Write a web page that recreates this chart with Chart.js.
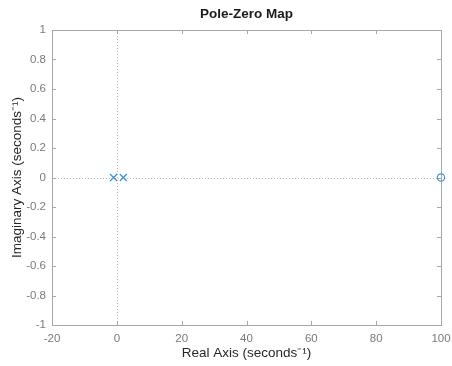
<!DOCTYPE html>
<html><head><meta charset="utf-8">
<script src="https://cdn.jsdelivr.net/npm/chart.js@4.4.1/dist/chart.umd.min.js"></script>
<style>html,body{margin:0;padding:0;background:#fff}#w{width:452px;height:366px}</style>
</head><body><div id="w"><canvas id="c"></canvas></div>
<script>
const poleReal = [-1, 2];
const poleImag = [0, 0];
const zeroReal = [100];
const zeroImag = [0];
const xTicks = [-20, 0, 20, 40, 60, 80, 100];
const yTicks = [-1, -0.8, -0.6, -0.4, -0.2, 0, 0.2, 0.4, 0.6, 0.8, 1];
const titleText = 'Pole-Zero Map';
const xTitle = 'Real Axis (seconds\u207B\u00B9)';
const yTitle = 'Imaginary Axis (seconds\u207B\u00B9)';

const FONT = 'Liberation Sans, Arial, sans-serif';
const markColor = '#3f8fd2';

const boxPlugin = {
  id: 'box',
  beforeDatasetsDraw(chart) {
    const {ctx, chartArea: a, scales: {x, y}} = chart;
    ctx.save();
    ctx.strokeStyle = '#b8b8b8';
    ctx.lineWidth = 1;
    ctx.setLineDash([1, 2]);
    const x0 = Math.round(x.getPixelForValue(0)) + 0.5;
    const y0 = Math.round(y.getPixelForValue(0)) + 0.5;
    ctx.beginPath(); ctx.moveTo(x0, a.top); ctx.lineTo(x0, a.bottom); ctx.stroke();
    ctx.beginPath(); ctx.moveTo(a.left, y0); ctx.lineTo(a.right, y0); ctx.stroke();
    ctx.setLineDash([]);
    ctx.strokeStyle = '#a8a8a8';
    ctx.strokeRect(Math.round(a.left) + 0.5, Math.round(a.top) + 0.5, Math.round(a.right - a.left), Math.round(a.bottom - a.top));
    const tl = 4;
    ctx.beginPath();
    x.ticks.forEach(t => {
      const px = Math.round(x.getPixelForValue(t.value)) + 0.5;
      ctx.moveTo(px, a.bottom); ctx.lineTo(px, a.bottom - tl);
      ctx.moveTo(px, a.top); ctx.lineTo(px, a.top + tl);
    });
    y.ticks.forEach(t => {
      const py = Math.round(y.getPixelForValue(t.value)) + 0.5;
      ctx.moveTo(a.left, py); ctx.lineTo(a.left + tl, py);
      ctx.moveTo(a.right, py); ctx.lineTo(a.right - tl, py);
    });
    ctx.stroke();
    ctx.fillStyle = '#1a1a1a';
    ctx.font = 'bold 13.5px ' + FONT;
    ctx.textAlign = 'center';
    ctx.textBaseline = 'middle';
    ctx.fillText(titleText, (a.left + a.right) / 2, 14);
    ctx.restore();
  }
};

new Chart(document.getElementById('c'), {
  type: 'scatter',
  data: {
    datasets: [
      {
        label: 'Poles',
        data: poleReal.map((v, i) => ({x: v, y: poleImag[i]})),
        pointStyle: 'crossRot',
        pointRadius: 5,
        borderColor: markColor,
        borderWidth: 1.2,
        backgroundColor: markColor
      },
      {
        label: 'Zeros',
        data: zeroReal.map((v, i) => ({x: v, y: zeroImag[i]})),
        pointStyle: 'circle',
        pointRadius: 3.7,
        borderColor: markColor,
        borderWidth: 1.2,
        backgroundColor: 'rgba(0,0,0,0)'
      }
    ]
  },
  options: {
    responsive: true,
    maintainAspectRatio: false,
    animation: false,
    clip: false,
    layout: {padding: {top: 30, right: 11, bottom: 0, left: 0}},
    plugins: {
      legend: {display: false},
      tooltip: {enabled: false},
      title: {display: false}
    },
    scales: {
      x: {
        type: 'linear',
        min: -20, max: 100,
        afterBuildTicks(s) { s.ticks = xTicks.map(v => ({value: v})); },
        afterFit(s) { s.height = 41; s.paddingLeft = 0; s.paddingRight = 0; },
        grid: {display: false, drawTicks: false},
        border: {display: false},
        ticks: {color: '#7a7a7a', font: {family: FONT, size: 11.5}, padding: 6.5, maxRotation: 0,
          callback: v => String(v)},
        title: {display: true, text: xTitle, color: '#262626', font: {family: FONT, size: 13.5}, padding: {top: 0, bottom: 5}}
      },
      y: {
        type: 'linear',
        min: -1, max: 1,
        afterBuildTicks(s) { s.ticks = yTicks.map(v => ({value: v})); },
        afterFit(s) { s.width = 52; s.paddingTop = 0; s.paddingBottom = 0; },
        grid: {display: false, drawTicks: false},
        border: {display: false},
        ticks: {color: '#7a7a7a', font: {family: FONT, size: 11.5}, padding: 6,
          callback: v => String(Math.round(v * 10) / 10)},
        title: {display: true, text: yTitle, color: '#262626', font: {family: FONT, size: 13.5}, padding: {top: 9, bottom: 0}}
      }
    }
  },
  plugins: [boxPlugin]
});
</script>
</body></html>
